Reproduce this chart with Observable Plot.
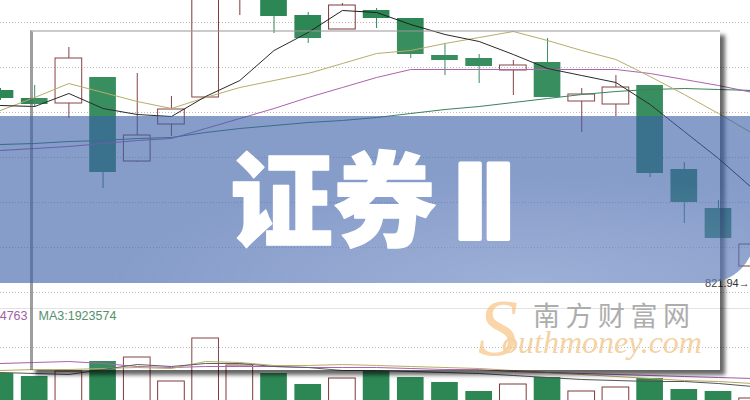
<!DOCTYPE html>
<html><head><meta charset="utf-8">
<script src="https://cdn.jsdelivr.net/npm/d3@7"></script>
<script src="https://cdn.jsdelivr.net/npm/@observablehq/plot@0.6"></script>
<style>
html,body{margin:0;padding:0;background:#fff;}
#wrap{position:relative;width:750px;height:400px;overflow:hidden;background:#fff;}
.abs{position:absolute;}
#frame{left:30px;top:30px;width:690px;height:340px;box-sizing:border-box;
  border-left:3px solid rgba(95,95,95,0.6);border-top:2px solid rgba(150,150,150,0.5);
  box-shadow:5px 5px 4px rgba(0,0,0,0.6);background:rgba(255,255,255,0.06);}
#banner{left:0;top:116px;width:755px;height:167px;border-bottom-right-radius:48px;
  background:radial-gradient(ellipse 420px 110px at 70% 100%, rgba(215,225,250,0.28), rgba(215,225,250,0)), rgba(60,95,168,0.62);}
</style></head>
<body>
<div id="wrap">
  <div id="pricePanel" class="abs" style="left:0;top:0"></div>
  <div id="volPanel" class="abs" style="left:0;top:308px"></div>
  <div id="frame" class="abs"></div>
  <div id="banner" class="abs"></div>
  <svg id="over" class="abs" width="750" height="400" style="left:0;top:0"></svg>
</div>
<script>
// ---- data ----
const dayIndex = [0,1,2,3,4,5,6,7,8,9,10,11,12,13,14,15,16,17,18,19,20,21,22];
const open  = [917,913,910.5,923.5,881.5,900,913.5,964.5,964.5,954.5,947.5,957,953,934.5,933,927,931,911.5,910,919.5,877.5,858,829];
const close = [913,910,933,876,894.5,907.5,969.5,979.5,954,943,959.5,953,935,932,929,929.5,913.5,915,918.5,875.5,861,843,840];
const high  = [918,919.5,938.5,923.5,925.5,914,974.5,984.5,966,956,960.5,958,953,940.5,935,932,943,918,924.5,919.5,881,862,842];
const low   = [912,908.5,903,868,881,894,913.5,954.5,945.5,940.5,947.5,948,933,924.5,920.5,914.5,913.5,896,904,873.5,850.5,843,821.94];
const volume = [3290000,3080000,3430000,4130000,4410000,2730000,5740000,3850000,3290000,2520000,2940000,3430000,3010000,2660000,2030000,2520000,3010000,2030000,2310000,2940000,2170000,2030000,1540000];
const maBlack  = [909.5,909,915.5,908,905,904,914,922,937,946,957,956,950,945,941.5,935,928,924.5,921,910,896.5,883,868];
const maOlive  = [907,913.5,920.5,916,911.5,908,913.5,918.5,922,925.5,930.5,935.5,937,940.5,943.5,946.5,942,937,932.5,924,915,905.5,895.5];
const maPurple = [887,888,889,890.5,892,893,898,903,908,913.5,918.5,923.5,927.5,927.5,927.5,927.5,927.5,927.5,927.5,925.5,922.5,919.5,916];
const maGreen  = [890,890.5,891.5,892,893,893.5,896,898,899.5,901,902,903.5,905.5,907.5,909,911,913,915,916.5,917.5,918,917.5,917];
const volMaDark   = [3360000,3290000,3220000,3570000,3920000,3780000,3990000,3990000,3780000,3710000,3500000,3500000,3430000,3360000,3290000,3150000,3010000,2870000,2800000,2730000,2730000,2590000,2380000];
const volMaOlive  = [3500000,3570000,3570000,3640000,3710000,3640000,4130000,4060000,3850000,3850000,3920000,3850000,3780000,3710000,3640000,3500000,3360000,3220000,3080000,2940000,2800000,2730000,2590000];
const volMaPurple = [3990000,4060000,4130000,3990000,3780000,3710000,3780000,3780000,3780000,3710000,3710000,3710000,3640000,3570000,3570000,3430000,3360000,3290000,3220000,3150000,3080000,3010000,2940000];
const priceGrid = [951,928.5,906,883.5,861,838.5,816];
const volumeGrid = [5110000];
const volumeTop = 7840000;
const lowLabel = "821.94";
const maLabels = ["4763", "MA3:1923574"];
const titleText = "证券";
const titleLatin = "II";
const siteName = "南方财富网";
const siteUrl = ["S", "outhmoney.com"];

// ---- styling ----
const GREEN = "#2d8755", RED = "#7f3a3a";
const HW = 0.39;
const rows = dayIndex.map((d,i)=>({d, o:open[i], c:close[i], h:high[i], l:low[i], v:volume[i], up: close[i] >= open[i]}));
const upRows = rows.filter(r=>r.up), dnRows = rows.filter(r=>!r.up);
const xDef = {domain:[0, 750/34.19], axis:null};
const line = (arr, color) => Plot.line(dayIndex, {x:d=>d, y:d=>arr[d], stroke:color, strokeWidth:1});
const font = "'Liberation Sans', Arial, sans-serif";

const pricePlot = Plot.plot({
  width:750, height:308, margin:0,
  x:xDef, y:{domain:[808,962], axis:null},
  style:{background:"#fff", fontFamily:font},
  marks:[
    Plot.ruleY(priceGrid, {stroke:"#bcbcbc", strokeDasharray:"1,2"}),
    Plot.ruleX(upRows, {x:"d", y1:"h", y2:"c", stroke:RED}),
    Plot.ruleX(upRows, {x:"d", y1:"o", y2:"l", stroke:RED}),
    Plot.ruleX(dnRows, {x:"d", y1:"h", y2:"l", stroke:GREEN}),
    Plot.rect(dnRows, {x1:d=>d.d-HW, x2:d=>d.d+HW, y1:"o", y2:"c", fill:GREEN}),
    Plot.rect(upRows, {x1:d=>d.d-HW, x2:d=>d.d+HW, y1:"o", y2:"c", fill:"none", stroke:RED}),
    line(maGreen, "#2f7a55"),
    line(maPurple, "#a85aa8"),
    line(maOlive, "#b4a862"),
    line(maBlack, "#1e1e1e"),
    Plot.text([rows[rows.length-1]], {x:"d", y:"l", text:()=>lowLabel+"→", textAnchor:"end", dx:-3, dy:3, fontSize:11, fill:"#333"})
  ]
});
document.getElementById("pricePanel").appendChild(pricePlot);

const volPlot = Plot.plot({
  width:750, height:92, margin:0,
  x:xDef, y:{domain:[1400000, volumeTop], axis:null},
  style:{background:"#fff", fontFamily:font},
  marks:[
    Plot.ruleY([volumeTop], {stroke:"#e2e2e2"}),
    Plot.ruleY(volumeGrid, {stroke:"#bcbcbc", strokeDasharray:"1,2"}),
    Plot.rect(dnRows, {x1:d=>d.d-HW, x2:d=>d.d+HW, y1:()=>0, y2:"v", fill:GREEN}),
    Plot.rect(upRows, {x1:d=>d.d-HW, x2:d=>d.d+HW, y1:()=>0, y2:"v", fill:"none", stroke:RED}),
    line(volMaPurple, "#a85aa8"),
    line(volMaOlive, "#b4a862"),
    line(volMaDark, "#555"),
    Plot.text([maLabels[0]], {frameAnchor:"top-left", textAnchor:"end", dx:27, dy:3, fill:"#a060a5", fontSize:12.5}),
    Plot.text([maLabels[1]], {frameAnchor:"top-left", textAnchor:"start", dx:38, dy:3, fill:"#4b8a63", fontSize:12.5})
  ]
});
document.getElementById("volPanel").appendChild(volPlot);

// ---- overlay texts ----
const over = d3.select("#over");
const t = over.append("text").attr("x",230).attr("y",239).attr("fill","#fff")
  .attr("stroke","#fff").attr("stroke-width",1.5).attr("stroke-linejoin","round");
t.append("tspan").attr("font-family","'Noto Sans CJK SC'").attr("font-weight",900).attr("font-size",103).text(titleText);
t.append("tspan").attr("dx",15).attr("font-family","'DejaVu Sans'").attr("font-weight",700)
  .attr("font-size",103).attr("letter-spacing",-10).attr("stroke-width",4).text(titleLatin);
over.append("text").attr("x",533).attr("y",326).attr("font-family","'Noto Sans CJK SC'")
  .attr("font-size",27).attr("letter-spacing",5.5).attr("fill","#adadad").text(siteName);
const u = over.append("text").attr("x",478).attr("y",355).attr("font-family","'Liberation Serif'").attr("font-style","italic");
u.append("tspan").attr("font-size",80).attr("fill","rgba(245,185,110,0.6)").text(siteUrl[0]);
u.append("tspan").attr("dx",-16).attr("dy",-2).attr("font-size",32).attr("fill","#f3d2a4").text(siteUrl[1]);
</script>
</body></html>
